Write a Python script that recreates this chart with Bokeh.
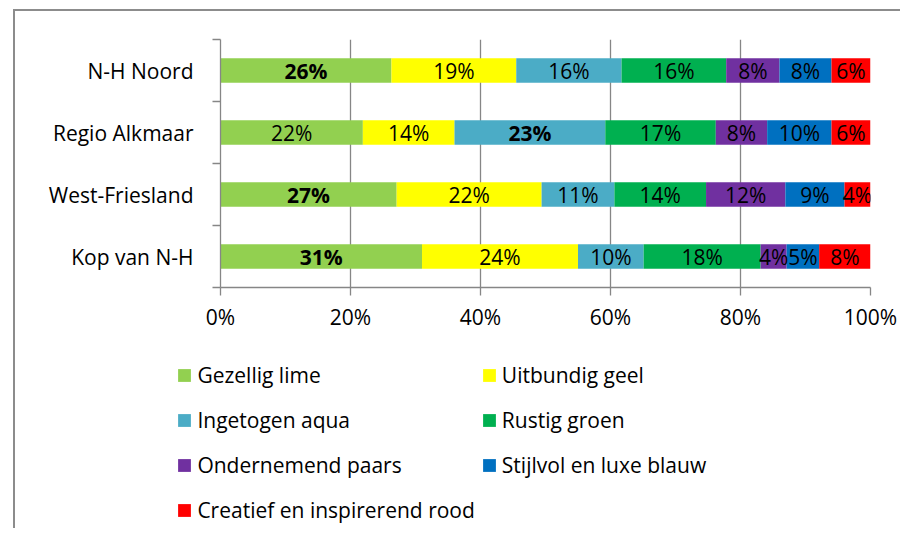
from bokeh.plotting import figure
from bokeh.models import Range1d, FixedTicker, ColumnDataSource, Legend, LegendItem
from bokeh.embed import file_html
from bokeh.resources import INLINE

# ---------------- data ----------------
regions = ["N-H Noord", "Regio Alkmaar", "West-Friesland", "Kop van N-H"]
series = ["Gezellig lime", "Uitbundig geel", "Ingetogen aqua", "Rustig groen",
          "Ondernemend paars", "Stijlvol en luxe blauw", "Creatief en inspirerend rood"]
colors = ["#92D050", "#FFFF00", "#4BACC6", "#00B050", "#7030A0", "#0070C0", "#FF0000"]

gezellig_lime = [26.3, 21.9, 27.1, 31.0]
uitbundig_geel = [19.2, 14.1, 22.3, 24.0]
ingetogen_aqua = [16.2, 23.2, 11.2, 10.1]
rustig_groen = [16.1, 17.0, 14.1, 18.0]
ondernemend_paars = [8.2, 7.9, 12.2, 4.0]
stijlvol_blauw = [8.0, 9.9, 9.1, 5.0]
creatief_rood = [6.0, 6.0, 4.0, 7.9]

x_ticks = [0, 20, 40, 60, 80, 100]
x_tick_labels = ["0%", "20%", "40%", "60%", "80%", "100%"]

# ---------------- build ----------------
FONT = "Open Sans"
FSIZE = "21px"
GRID = "#868686"
BORDER = "2px solid #8c8c8c"

series_values = [gezellig_lime, uitbundig_geel, ingetogen_aqua, rustig_groen,
                 ondernemend_paars, stijlvol_blauw, creatief_rood]
keys = ["s%d" % i for i in range(len(series))]
n = len(regions)
ypos = [n - 0.5 - i for i in range(n)]

data = {"y": ypos}
for k, v in zip(keys, series_values):
    data[k] = v
src = ColumnDataSource(data)

p = figure(width=887, height=329,
           x_range=Range1d(0, 100), y_range=Range1d(0, n),
           output_backend="svg", toolbar_location=None,
           min_border_left=205, min_border_right=32,
           min_border_top=28, min_border_bottom=53)
p.styles = {"border-left": BORDER, "border-top": BORDER,
            "border-right": "none", "border-bottom": "none"}
p.margin = (9, 0, 0, 13)
p.outline_line_color = None
p.background_fill_color = "white"
p.border_fill_color = "white"

renderers = p.hbar_stack(keys, y="y", height=0.395, color=colors, source=src,
                         line_color=None)

# value labels
norm = {"x": [], "y": [], "t": []}
bold = {"x": [], "y": [], "t": []}
for j in range(n):
    row = [sv[j] for sv in series_values]
    mx = max(row)
    cum = 0.0
    for v in row:
        d = bold if v == mx else norm
        d["x"].append(cum + v / 2.0)
        d["y"].append(ypos[j])
        d["t"].append("%d%%" % round(v))
        cum += v

for d, style in ((norm, "normal"), (bold, "bold")):
    p.text(x="x", y="y", text="t", source=ColumnDataSource(d),
           text_font={"value": FONT}, text_font_size={"value": FSIZE},
           text_font_style=style, text_align="center", text_baseline="middle",
           text_color="black")

# x axis
xa = p.xaxis[0]
xa.ticker = FixedTicker(ticks=x_ticks, minor_ticks=[])
xa.major_label_overrides = {t: l for t, l in zip(x_ticks, x_tick_labels)}
xa.axis_line_color = GRID
xa.axis_line_width = 1.3
xa.major_tick_line_color = GRID
xa.major_tick_line_width = 1.3
xa.major_tick_out = 8
xa.major_tick_in = 0
xa.minor_tick_line_color = None
xa.major_label_text_font = FONT
xa.major_label_text_font_size = FSIZE
xa.major_label_text_color = "black"
xa.major_label_standoff = 7

# y axis
ya = p.yaxis[0]
ya.ticker = FixedTicker(ticks=ypos, minor_ticks=list(range(n + 1)))
ya.major_label_overrides = {y: r for y, r in zip(ypos, regions)}
ya.axis_line_color = GRID
ya.axis_line_width = 1.3
ya.major_tick_line_color = None
ya.major_tick_out = 0
ya.major_tick_in = 0
ya.minor_tick_line_color = GRID
ya.minor_tick_line_width = 1.3
ya.minor_tick_out = 8
ya.minor_tick_in = 0
ya.major_label_text_font = FONT
ya.major_label_text_font_size = FSIZE
ya.major_label_text_color = "black"
ya.major_label_standoff = 19

# grid
p.xgrid.ticker = FixedTicker(ticks=x_ticks)
p.xgrid.grid_line_color = GRID
p.xgrid.grid_line_width = 1.3
p.ygrid.grid_line_color = None

# ---------------- legend panel (separate root, stacked below) ----------------
lg = figure(width=887, height=190, x_range=Range1d(0, 1), y_range=Range1d(0, 1),
            output_backend="svg", toolbar_location=None,
            x_axis_type=None, y_axis_type=None,
            min_border=0, min_border_left=0, min_border_right=0,
            min_border_top=0, min_border_bottom=0)
lg.styles = {"border-left": BORDER, "border-top": "none",
             "border-right": "none", "border-bottom": "none"}
lg.margin = (0, 0, 0, 13)
lg.outline_line_color = None
lg.background_fill_color = "white"
lg.border_fill_color = "white"
lg.xgrid.visible = False
lg.ygrid.visible = False

# zero-size proxy bars, only used to carry the legend swatch colours
leg_renderers = [lg.hbar(y=[0.5], left=[0], right=[0], height=0, color=c,
                         line_color=None) for c in colors]
items = [LegendItem(label=s, renderers=[r]) for s, r in zip(series, leg_renderers)]
legend = Legend(items=items, ncols=2, orientation="horizontal",
                location=(161.4, -1.5),
                label_text_font=FONT, label_text_font_size=FSIZE,
                label_text_color="black",
                glyph_width=16, glyph_height=16, label_standoff=5,
                label_width=270, label_height=39, spacing=6,
                padding=0, margin=0, border_line_color=None,
                background_fill_alpha=0)
lg.add_layout(legend)

open("out.html", "w").write(file_html([p, lg], INLINE))
